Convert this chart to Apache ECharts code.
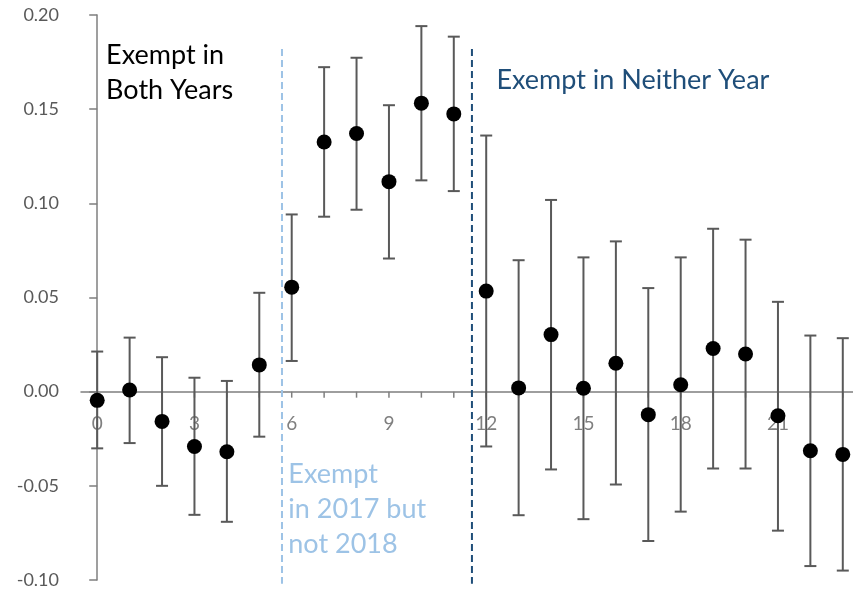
<!DOCTYPE html>
<html>
<head>
<meta charset="utf-8">
<script src="https://cdn.jsdelivr.net/npm/echarts@6/dist/echarts.min.js"></script>
<style>
html,body{margin:0;padding:0;background:#fff;}
#chart{width:853px;height:592px;}
</style>
</head>
<body>
<div id="chart"></div>
<script>
const xValues = [0,1,2,3,4,5,6,7,8,9,10,11,12,13,14,15,16,17,18,19,20,21,22,23];
const estimates = [-0.0046, 0.0009, -0.0158, -0.0291, -0.0319, 0.0142, 0.0555, 0.1326, 0.1371, 0.1115, 0.1532, 0.1475, 0.0534, 0.0020, 0.0303, 0.0018, 0.0151, -0.0122, 0.0037, 0.0229, 0.0200, -0.0128, -0.0314, -0.0333];
const upperCI = [0.0213, 0.0287, 0.0183, 0.0074, 0.0057, 0.0525, 0.0941, 0.1723, 0.1773, 0.1521, 0.1941, 0.1885, 0.1360, 0.0698, 0.1018, 0.0713, 0.0798, 0.0550, 0.0713, 0.0865, 0.0807, 0.0477, 0.0298, 0.0284];
const lowerCI = [-0.0301, -0.0273, -0.0500, -0.0654, -0.0691, -0.0239, 0.0163, 0.0929, 0.0966, 0.0707, 0.1122, 0.1065, -0.0291, -0.0656, -0.0413, -0.0677, -0.0493, -0.0793, -0.0637, -0.0408, -0.0408, -0.0738, -0.0926, -0.0950];
const xTickLabels = [0,3,6,9,12,15,18,21];
const xTicks = xValues;
const boundary1 = 5.7;   // Exempt in 2017 but not 2018 starts
const boundary2 = 11.56; // Exempt in Neither Year starts
const boundaryTop = 0.182;
const boundaryBottom = -0.102;
const annotations = [
  {name: 'Exempt in\nBoth Years', value: [0.29, 0.1875], color: '#000000'},
  {name: 'Exempt in Neither Year', value: [12.33, 0.1741], color: '#1F4E79'},
  {name: 'Exempt\nin 2017 but\nnot 2018', value: [5.91, -0.0348], color: '#9DC3E6'}
];

const errData = xValues.map((x, i) => [x, lowerCI[i], upperCI[i]]);
const pointData = xValues.map((x, i) => [x, estimates[i]]);

const chart = echarts.init(document.getElementById('chart'), null, {renderer: 'canvas'});
const FONT = 'Lato';
const AXIS_COLOR = '#7F7F7F';
chart.setOption({
  animation: false,
  backgroundColor: '#ffffff',
  grid: {left: 81, right: -6, top: 15, bottom: 12, containLabel: false, outerBoundsMode: 'none'},
  xAxis: {
    type: 'value', min: -0.5, max: 23.5,
    splitLine: {show: false},
    axisLine: {show: true, onZero: true, lineStyle: {color: AXIS_COLOR, width: 1.5}},
    axisTick: {show: false},
    axisLabel: {show: false}
  },
  yAxis: {
    type: 'value', min: -0.1, max: 0.2, interval: 0.05,
    splitLine: {show: false},
    axisLine: {show: true, lineStyle: {color: AXIS_COLOR, width: 1.5}},
    axisTick: {show: true, length: 8, lineStyle: {color: AXIS_COLOR, width: 1.5}},
    axisLabel: {margin: 22, fontFamily: FONT, fontSize: 18, color: '#595959', formatter: v => v.toFixed(2)}
  },
  series: [
    {
      // x-axis ticks on the zero line
      type: 'custom', data: xTicks.map(v => [v, 0]), z: 1, clip: false, silent: true,
      renderItem: function (params, api) {
        const p = api.coord([api.value(0), 0]);
        return {type: 'line', shape: {x1: p[0], y1: p[1], x2: p[0], y2: p[1] + 6},
          style: {stroke: AXIS_COLOR, lineWidth: 1.5}};
      }
    },
    {
      // x-axis tick labels below the zero line (drawn beneath the error bars)
      type: 'custom', data: xTickLabels.map(v => [v, 0]), z: 1, clip: false, silent: true,
      renderItem: function (params, api) {
        const v = api.value(0);
        const p = api.coord([v, 0]);
        return {type: 'text', x: p[0], y: p[1] + 32,
          style: {text: String(v), fontFamily: FONT, fontSize: 19, fill: '#7F7F7F',
            align: 'center', verticalAlign: 'middle'}};
      }
    },
    {
      type: 'line', data: [[boundary1, boundaryTop], [boundary1, boundaryBottom]],
      symbol: 'none', clip: false, silent: true, z: 1,
      lineStyle: {color: '#9DC3E6', width: 2, type: [7, 4]}
    },
    {
      type: 'line', data: [[boundary2, boundaryTop], [boundary2, boundaryBottom]],
      symbol: 'none', clip: false, silent: true, z: 1,
      lineStyle: {color: '#1F4E79', width: 2, type: [7, 4]}
    },
    {
      type: 'custom', data: errData, z: 2, clip: false,
      renderItem: function (params, api) {
        const x = api.value(0);
        const lo = api.coord([x, api.value(1)]);
        const hi = api.coord([x, api.value(2)]);
        const hw = 6;
        const style = {stroke: '#595959', lineWidth: 2};
        return {
          type: 'group',
          children: [
            {type: 'line', shape: {x1: lo[0], y1: lo[1], x2: hi[0], y2: hi[1]}, style: style},
            {type: 'line', shape: {x1: lo[0] - hw, y1: lo[1], x2: lo[0] + hw, y2: lo[1]}, style: style},
            {type: 'line', shape: {x1: hi[0] - hw, y1: hi[1], x2: hi[0] + hw, y2: hi[1]}, style: style}
          ]
        };
      }
    },
    {
      type: 'scatter', data: pointData, symbol: 'circle', symbolSize: 15, z: 3,
      itemStyle: {color: '#000000', opacity: 1}
    },
    {
      type: 'scatter', z: 4, symbolSize: 1, silent: true,
      itemStyle: {color: 'rgba(0,0,0,0)', opacity: 1},
      data: annotations.map(a => ({
        name: a.name, value: a.value,
        label: {
          show: true, position: [0, 0], align: 'left', verticalAlign: 'top',
          formatter: '{b}', fontFamily: FONT, fontSize: 27, lineHeight: 35, color: a.color
        }
      }))
    }
  ]
});
</script>
</body>
</html>
